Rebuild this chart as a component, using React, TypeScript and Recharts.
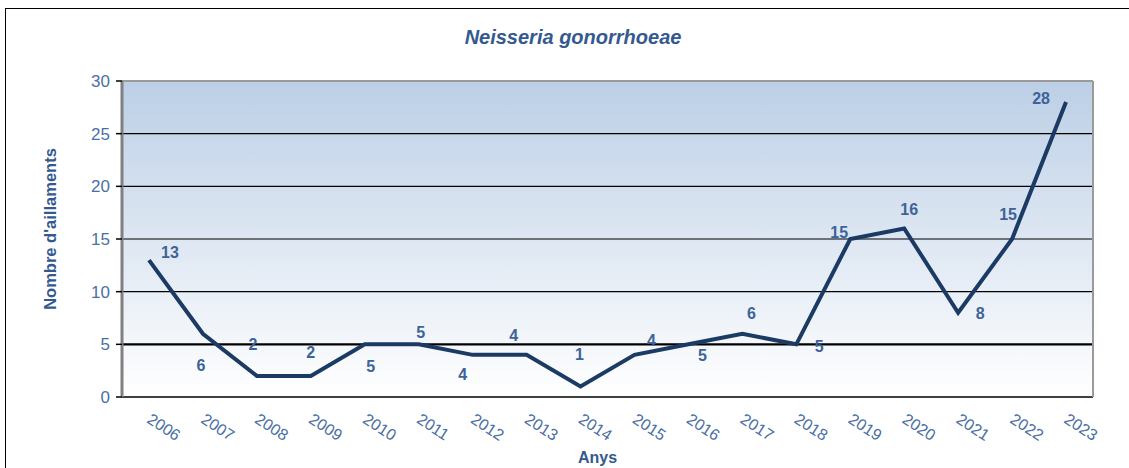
import { LineChart, Line, XAxis, YAxis, CartesianGrid, ReferenceLine } from 'recharts';

const years = ['2006', '2007', '2008', '2009', '2010', '2011', '2012', '2013', '2014', '2015', '2016', '2017', '2018', '2019', '2020', '2021', '2022', '2023'];
const isolates = [13, 6, 2, 2, 5, 5, 4, 4, 1, 4, 5, 6, 5, 15, 16, 8, 15, 28];
const yTicks = [0, 5, 10, 15, 20, 25, 30];
const gridValues = [5, 10, 15, 20, 25];

// where each value label sits relative to its point (dx, dy)
const labelOffsets = [
  [21, -8], [-2, 32], [-4, -31], [0, -23], [6, 22], [2, -12], [-10, 20], [-13, -19], [-1, -32],
  [17, -14], [14, 11], [9, -20], [23, 2], [-11, -7], [5, -19], [22, 1], [-4, -25], [-25, -4],
];

const data = years.map((year, i) => ({ x: i + 0.5, year, value: isolates[i] }));
const boundaryTicks = years.map((_, i) => i).concat(years.length);
const centerTicks = data.map((d) => d.x);

const labelColor = '#3d6399';
const font = '"Liberation Sans", Arial, sans-serif';

const renderValueLabel = (props: any) => {
  const { x, y, value, index } = props;
  const [dx, dy] = labelOffsets[index] ?? [0, -12];
  return (
    <text
      key={`lbl-${index}`}
      x={x + dx}
      y={y + dy}
      textAnchor="middle"
      dominantBaseline="central"
      fill={labelColor}
      fontSize={16}
      fontWeight="bold"
      fontFamily={font}
    >
      {value}
    </text>
  );
};

const YearTick = (props: any) => {
  const { x, y, payload } = props;
  const label = years[Math.floor(payload.value)];
  return (
    <g transform={`translate(${x - 3},${y + 9})`}>
      <text transform="rotate(33)" textAnchor="start" fill="#4a6fa5" fontSize={16} fontFamily={font}>
        {label}
      </text>
    </g>
  );
};

export default function App() {
  return (
    <div style={{ position: 'absolute', left: 0, top: 0, width: 1129, height: 468, background: '#fff' }}>
      <div
        style={{
          position: 'absolute',
          left: 5,
          top: 8,
          right: 0,
          bottom: 0,
          borderLeft: '1.5px solid #000',
          borderTop: '1.5px solid #000',
        }}
      />
      <div
        style={{
          position: 'absolute',
          left: 0,
          top: 26,
          width: 1129,
          textAlign: 'center',
          fontFamily: font,
          fontSize: 20,
          fontWeight: 'bold',
          fontStyle: 'italic',
          color: '#34598f',
          paddingLeft: 17,
          boxSizing: 'border-box',
        }}
      >
        Neisseria gonorrhoeae
      </div>
      <div
        style={{
          position: 'absolute',
          left: 578,
          top: 449,
          fontFamily: font,
          fontSize: 16,
          fontWeight: 'bold',
          color: '#34598f',
        }}
      >
        Anys
      </div>
      <div
        style={{
          position: 'absolute',
          left: 50,
          top: 229,
          transform: 'translate(-50%, -50%) rotate(-90deg)',
          fontFamily: font,
          fontSize: 16.5,
          fontWeight: 'bold',
          color: '#34598f',
          whiteSpace: 'nowrap',
        }}
      >
        Nombre d'aillaments
      </div>
      <div style={{ position: 'absolute', left: 0, top: 0 }}>
        <LineChart width={1129} height={468} data={data} margin={{ top: 81, right: 0, left: 62, bottom: 0 }}>
          <defs>
            <linearGradient id="plotBg" x1="0" y1="0" x2="0" y2="1">
              <stop offset="0%" stopColor="#bccfe6" />
              <stop offset="100%" stopColor="#ffffff" />
            </linearGradient>
          </defs>
          <CartesianGrid horizontal={false} vertical={false} fill="url(#plotBg)" stroke="none" />
          <XAxis
            xAxisId="edges"
            dataKey="x"
            type="number"
            domain={[0, years.length]}
            ticks={boundaryTicks}
            tick={false}
            height={8}
            axisLine={{ stroke: '#000', strokeWidth: 1.5 }}
            tickLine={{ stroke: '#333', strokeWidth: 1.5 }}
            tickSize={6}
          />
          <XAxis
            xAxisId="years"
            dataKey="x"
            type="number"
            domain={[0, years.length]}
            ticks={centerTicks}
            tick={<YearTick />}
            height={63}
            axisLine={false}
            tickLine={false}
            interval={0}
          />
          <YAxis
            yAxisId="left"
            domain={[0, 30]}
            ticks={yTicks}
            width={60}
            axisLine={{ stroke: '#808080', strokeWidth: 3 }}
            tickLine={{ stroke: '#000', strokeWidth: 1.5 }}
            tickSize={6}
            tick={{ fill: '#4a6fa5', fontSize: 17, fontFamily: font, dx: -4 }}
            interval={0}
          />
          <YAxis
            yAxisId="right"
            orientation="right"
            domain={[0, 30]}
            width={36}
            tick={false}
            tickLine={false}
            axisLine={{ stroke: '#9a9a9a', strokeWidth: 2 }}
          />
          <ReferenceLine xAxisId="edges" yAxisId="left" y={30} stroke="#9a9a9a" strokeWidth={2} />
          {gridValues.map((v) => (
            <ReferenceLine
              key={v}
              xAxisId="edges"
              yAxisId="left"
              y={v}
              stroke="#000"
              strokeWidth={v === 5 ? 2.2 : 1.2}
            />
          ))}
          <Line
            xAxisId="edges"
            yAxisId="left"
            type="linear"
            dataKey="value"
            stroke="#1b3a64"
            strokeWidth={4}
            dot={false}
            label={renderValueLabel}
            isAnimationActive={false}
          />
        </LineChart>
      </div>
    </div>
  );
}
